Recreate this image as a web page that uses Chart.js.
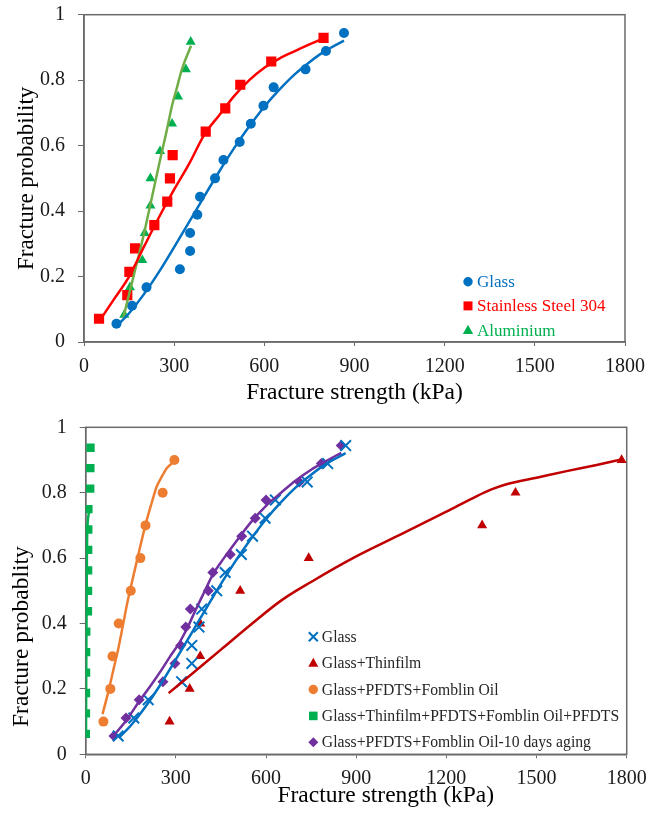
<!DOCTYPE html>
<html>
<head>
<meta charset="utf-8">
<title>Fracture probability vs fracture strength</title>
<script src="https://cdn.jsdelivr.net/npm/chart.js@4/dist/chart.umd.min.js"></script>
<style>
  html, body { margin: 0; padding: 0; background: #ffffff; }
  #wrap { position: relative; width: 648px; height: 822px; }
  .panel { position: absolute; left: 0; width: 648px; }
</style>
</head>
<body>
<div id="wrap">
  <div class="panel" style="top:0;height:410px"><canvas id="materials" width="648" height="410"></canvas></div>
  <div class="panel" style="top:410px;height:412px"><canvas id="coatings" width="648" height="412"></canvas></div>
</div>
<script>
// ---------- axis ticks ----------
const strengthTicks = ['0', '300', '600', '900', '1200', '1500', '1800'];
const probabilityTicks = ['0', '0.2', '0.4', '0.6', '0.8', '1'];

// ---------- glass (used in both panels) ----------
const glassStrength = [108, 160, 208, 319, 353, 353, 377, 386, 436, 464, 518, 555, 597, 631, 737, 805, 865];
const glassProb = [0.056, 0.111, 0.167, 0.222, 0.278, 0.333, 0.389, 0.444, 0.5, 0.556, 0.611, 0.667, 0.722, 0.778, 0.833, 0.889, 0.944];
const glassFitStrength = [110, 150, 200, 250, 300, 350, 400, 450, 500, 550, 600, 650, 700, 750, 800, 865];
const glassFitProb = [0.050, 0.088, 0.147, 0.215, 0.290, 0.367, 0.445, 0.521, 0.593, 0.659, 0.719, 0.771, 0.817, 0.855, 0.888, 0.921];

// ---------- stainless steel 304 ----------
const steelStrength = [50, 144, 151, 170, 234, 277, 286, 295, 405, 470, 520, 623, 797];
const steelProb = [0.071, 0.143, 0.214, 0.286, 0.357, 0.429, 0.5, 0.571, 0.643, 0.714, 0.786, 0.857, 0.929];
const steelFitStrength = [55, 100, 150, 200, 250, 300, 350, 400, 450, 500, 550, 600, 650, 700, 750, 797];
const steelFitProb = [0.069, 0.131, 0.200, 0.292, 0.382, 0.466, 0.545, 0.633, 0.693, 0.752, 0.800, 0.838, 0.866, 0.888, 0.909, 0.928];

// ---------- aluminium ----------
const aluStrength = [134, 153, 194, 202, 221, 221, 253, 293, 313, 339, 355];
const aluProb = [0.083, 0.167, 0.25, 0.333, 0.417, 0.5, 0.583, 0.667, 0.75, 0.833, 0.917];
const aluFitStrength = [131, 160, 197, 225, 253, 275, 292, 310, 325, 356];
const aluFitProb = [0.075, 0.183, 0.321, 0.438, 0.556, 0.645, 0.719, 0.780, 0.831, 0.905];

// ---------- glass + thin film ----------
const thinStrength = [279, 346, 381, 381, 514, 742, 1319, 1430, 1783];
const thinProb = [0.1, 0.2, 0.3, 0.4, 0.5, 0.6, 0.7, 0.8, 0.9];
const thinFitStrength = [276, 350, 450, 550, 650, 750, 900, 1050, 1200, 1300, 1350, 1400, 1500, 1600, 1700, 1783];
const thinFitProb = [0.187, 0.243, 0.320, 0.397, 0.470, 0.527, 0.605, 0.673, 0.742, 0.789, 0.810, 0.826, 0.846, 0.866, 0.885, 0.902];

// ---------- glass + PFDTS + Fomblin oil ----------
const oilStrength = [59, 82, 89, 110, 150, 182, 199, 256, 295];
const oilProb = [0.1, 0.2, 0.3, 0.4, 0.5, 0.6, 0.7, 0.8, 0.9];
const oilFitStrength = [56, 75, 92, 110, 125, 140, 158, 180, 203, 220, 236, 255, 269, 295];
const oilFitProb = [0.123, 0.190, 0.258, 0.330, 0.400, 0.470, 0.543, 0.630, 0.716, 0.770, 0.818, 0.852, 0.874, 0.896];

// ---------- glass + thin film + PFDTS + Fomblin oil + PFDTS ----------
const fullStrength = [0.5, 0.8, 1, 1.2, 1.5, 1.8, 7.5, 7.8, 8, 8.2, 8.5, 9, 15, 15.5, 16];
const fullProb = [0.0625, 0.125, 0.1875, 0.25, 0.3125, 0.375, 0.4375, 0.5, 0.5625, 0.625, 0.6875, 0.75, 0.8125, 0.875, 0.9375];
const fullFitStrength = [1, 2, 4, 5.5, 13, 15];
const fullFitProb = [0.06, 0.30, 0.60, 0.69, 0.745, 0.76];

// ---------- glass + PFDTS + Fomblin oil, 10 days aging ----------
const agedStrength = [94, 134, 178, 257, 297, 316, 333, 348, 408, 423, 481, 519, 564, 600, 711, 784, 850];
const agedProb = [0.056, 0.111, 0.167, 0.222, 0.278, 0.333, 0.389, 0.444, 0.5, 0.556, 0.611, 0.667, 0.722, 0.778, 0.833, 0.889, 0.944];
const agedFitStrength = [92, 136, 181, 220, 250, 280, 311, 340, 365, 395, 425, 460, 500, 550, 600, 650, 700, 750, 800, 850];
const agedFitProb = [0.056, 0.105, 0.166, 0.215, 0.255, 0.298, 0.340, 0.390, 0.440, 0.497, 0.553, 0.600, 0.650, 0.710, 0.760, 0.800, 0.838, 0.870, 0.897, 0.922];

// ---------- styling ----------
const SERIF = "'Liberation Serif', 'Times New Roman', serif";
const AXIS_GREY = '#6a6a6a';
const BLUE = '#0070C0', RED = '#FF0000', GREEN = '#00B050', OLIVE = '#70AD47';
const DARK_RED = '#C00000', ORANGE = '#ED7D31', PURPLE = '#7030A0';

const zip = (xs, ys) => xs.map((x, i) => ({ x: x, y: ys[i] }));

function markers(label, xs, ys, style, radius, color, inLegend) {
  return {
    label: label,
    data: zip(xs, ys),
    showLine: false,
    pointStyle: style,
    pointRadius: radius,
    pointHoverRadius: radius,
    pointBackgroundColor: color,
    pointBorderColor: color,
    pointBorderWidth: style === 'crossRot' ? 2 : 0,
    inLegend: inLegend,
    order: 1
  };
}

function fitLine(xs, ys, color) {
  return {
    label: '',
    data: zip(xs, ys),
    showLine: true,
    borderColor: color,
    borderWidth: 2.5,
    pointRadius: 0,
    pointHoverRadius: 0,
    cubicInterpolationMode: 'monotone',
    inLegend: false,
    order: 0
  };
}

// Legend drawn inside the plot area, one row per series that asks for it.
function drawMarker(ctx, style, x, y, r, color) {
  ctx.fillStyle = color;
  ctx.strokeStyle = color;
  ctx.lineWidth = 2;
  ctx.beginPath();
  if (style === 'circle') {
    ctx.arc(x, y, r, 0, Math.PI * 2);
    ctx.fill();
  } else if (style === 'rect') {
    ctx.rect(x - r, y - r, 2 * r, 2 * r);
    ctx.fill();
  } else if (style === 'triangle') {
    ctx.moveTo(x, y - r * 1.05);
    ctx.lineTo(x + r, y + r * 0.75);
    ctx.lineTo(x - r, y + r * 0.75);
    ctx.closePath();
    ctx.fill();
  } else if (style === 'rectRot') {
    ctx.moveTo(x, y - r);
    ctx.lineTo(x + r, y);
    ctx.lineTo(x, y + r);
    ctx.lineTo(x - r, y);
    ctx.closePath();
    ctx.fill();
  } else if (style === 'crossRot') {
    ctx.moveTo(x - r, y - r);
    ctx.lineTo(x + r, y + r);
    ctx.moveTo(x + r, y - r);
    ctx.lineTo(x - r, y + r);
    ctx.stroke();
  }
}

const insetLegend = {
  id: 'insetLegend',
  afterDatasetsDraw(chart, args, opts) {
    const ctx = chart.ctx;
    const items = chart.data.datasets.filter(d => d.inLegend);
    ctx.save();
    ctx.font = opts.fontSize + 'px ' + SERIF;
    ctx.textBaseline = 'middle';
    ctx.textAlign = 'left';
    items.forEach((d, i) => {
      const y = opts.y + i * opts.rowGap;
      drawMarker(ctx, d.pointStyle, opts.x, y, opts.sizes[d.pointStyle], d.pointBackgroundColor);
      ctx.fillStyle = opts.textColor || d.pointBackgroundColor;
      ctx.fillText(d.label, opts.x + opts.textGap, y + 1);
    });
    ctx.restore();
  }
};

// Closes the plot frame on the top and right sides.
const plotFrame = {
  id: 'plotFrame',
  beforeDatasetsDraw(chart) {
    const { ctx, chartArea: a } = chart;
    ctx.save();
    ctx.strokeStyle = AXIS_GREY;
    ctx.lineWidth = 1.5;
    ctx.strokeRect(a.left, a.top, a.right - a.left, a.bottom - a.top);
    ctx.restore();
  }
};

// Axis captions placed freely relative to the plot area.
const freeCaptions = {
  id: 'freeCaptions',
  afterDraw(chart, args, opts) {
    const { ctx, chartArea: a } = chart;
    ctx.save();
    ctx.font = opts.fontSize + 'px ' + SERIF;
    ctx.fillStyle = '#000000';
    ctx.textAlign = 'center';
    ctx.textBaseline = 'middle';
    ctx.fillText(opts.x.text, a.left + opts.x.at * (a.right - a.left), a.bottom + opts.x.offset);
    ctx.translate(opts.y.offset, a.top + opts.y.at * (a.bottom - a.top));
    ctx.rotate(-Math.PI / 2);
    ctx.fillText(opts.y.text, 0, 0);
    ctx.restore();
  }
};

// Fixed axis sizes; the plot edges come from the layout padding alone.
function fixX(height) {
  return s => {
    s.height = height;
    s.paddingLeft = 0; s.paddingRight = 0; s.paddingTop = 0; s.paddingBottom = 0;
  };
}
function fixY(width) {
  return s => {
    s.width = width;
    s.paddingLeft = 0; s.paddingRight = 0; s.paddingTop = 0; s.paddingBottom = 0;
  };
}

function buildOptions(cfg) {
  return {
    responsive: false,
    animation: false,
    events: [],
    layout: { padding: cfg.padding },
    plugins: {
      legend: { display: false },
      tooltip: { enabled: false },
      insetLegend: cfg.legend,
      freeCaptions: cfg.captions || {}
    },
    scales: {
      x: {
        type: 'linear',
        min: 0,
        max: 1800,
        afterFit: fixX(cfg.xHeight),
        border: { display: true, color: AXIS_GREY, width: 1.5 },
        grid: { display: true, drawOnChartArea: false, drawTicks: true, tickLength: 4, color: AXIS_GREY, lineWidth: 1 },
        ticks: {
          stepSize: 300,
          padding: cfg.xTickPad,
          color: '#1a1a1a',
          font: { family: SERIF, size: 20 },
          maxRotation: 0,
          callback: (v, i) => strengthTicks[i]
        },
        title: {
          display: !!cfg.xTitle,
          text: cfg.xTitle || '',
          color: '#000000',
          font: { family: SERIF, size: 23.5, lineHeight: 1 },
          padding: { top: 0, bottom: cfg.xTitlePad || 0 }
        }
      },
      y: {
        type: 'linear',
        min: 0,
        max: 1,
        afterFit: fixY(cfg.yWidth),
        border: { display: true, color: AXIS_GREY, width: 1.5 },
        grid: { display: true, drawOnChartArea: false, drawTicks: true, tickLength: 6, color: AXIS_GREY, lineWidth: 1 },
        ticks: {
          stepSize: 0.2,
          padding: 13,
          color: '#1a1a1a',
          font: { family: SERIF, size: 20 },
          callback: (v, i) => probabilityTicks[i]
        },
        title: {
          display: !!cfg.yTitle,
          text: cfg.yTitle || '',
          color: '#000000',
          font: { family: SERIF, size: 23, lineHeight: 1 },
          padding: { top: cfg.yTitlePad || 0, bottom: 0 }
        }
      }
    }
  };
}

// ---------- top panel: substrate materials ----------
new Chart(document.getElementById('materials'), {
  type: 'scatter',
  data: {
    datasets: [
      fitLine(glassFitStrength, glassFitProb, BLUE),
      fitLine(steelFitStrength, steelFitProb, RED),
      fitLine(aluFitStrength, aluFitProb, OLIVE),
      markers('Glass', glassStrength, glassProb, 'circle', 5, BLUE, true),
      markers('Stainless Steel 304', steelStrength, steelProb, 'rect', 7.2, RED, true),
      markers('Aluminium', aluStrength, aluProb, 'triangle', 5.8, GREEN, true)
    ]
  },
  options: buildOptions({
    padding: { left: 0, top: 14.7, right: 23, bottom: 0 },
    yWidth: 84,
    xHeight: 68,
    xTickPad: 9,
    xTitle: 'Fracture strength (kPa)',
    xTitlePad: 5,
    yTitle: 'Fracture probability',
    yTitlePad: 15,
    legend: { x: 468, y: 281.7, rowGap: 24.2, textGap: 9, fontSize: 17,
              sizes: { circle: 4.7, rect: 4.5, triangle: 5.2 } }
  }),
  plugins: [plotFrame, insetLegend]
});

// ---------- bottom panel: coated glass ----------
new Chart(document.getElementById('coatings'), {
  type: 'scatter',
  data: {
    datasets: [
      fitLine(glassFitStrength, glassFitProb, BLUE),
      fitLine(thinFitStrength, thinFitProb, DARK_RED),
      fitLine(oilFitStrength, oilFitProb, ORANGE),
      fitLine(fullFitStrength, fullFitProb, GREEN),
      fitLine(agedFitStrength, agedFitProb, PURPLE),
      markers('Glass', glassStrength, glassProb, 'crossRot', 7.5, BLUE, true),
      markers('Glass+Thinfilm', thinStrength, thinProb, 'triangle', 5.8, DARK_RED, true),
      markers('Glass+PFDTS+Fomblin Oil', oilStrength, oilProb, 'circle', 5, ORANGE, true),
      markers('Glass+Thinfilm+PFDTS+Fomblin Oil+PFDTS', fullStrength, fullProb, 'rect', 5.9, GREEN, true),
      markers('Glass+PFDTS+Fomblin Oil-10 days aging', agedStrength, agedProb, 'rectRot', 5.5, PURPLE, true)
    ]
  },
  options: buildOptions({
    padding: { left: 0, top: 17.3, right: 21.3, bottom: 0 },
    yWidth: 85.7,
    xHeight: 67.7,
    xTickPad: 8,
    legend: { x: 313.3, y: 226.7, rowGap: 26.4, textGap: 8.5, fontSize: 15.7, textColor: '#262626',
              sizes: { crossRot: 4.5, triangle: 5, circle: 4.7, rect: 4.3, rectRot: 5 } },
    captions: {
      fontSize: 23.5,
      x: { text: 'Fracture strength (kPa)', at: 0.5547, offset: 41.5 },
      y: { text: 'Fracture probablity', at: 0.640, offset: 21.7 }
    }
  }),
  plugins: [plotFrame, insetLegend, freeCaptions]
});
</script>
</body>
</html>
